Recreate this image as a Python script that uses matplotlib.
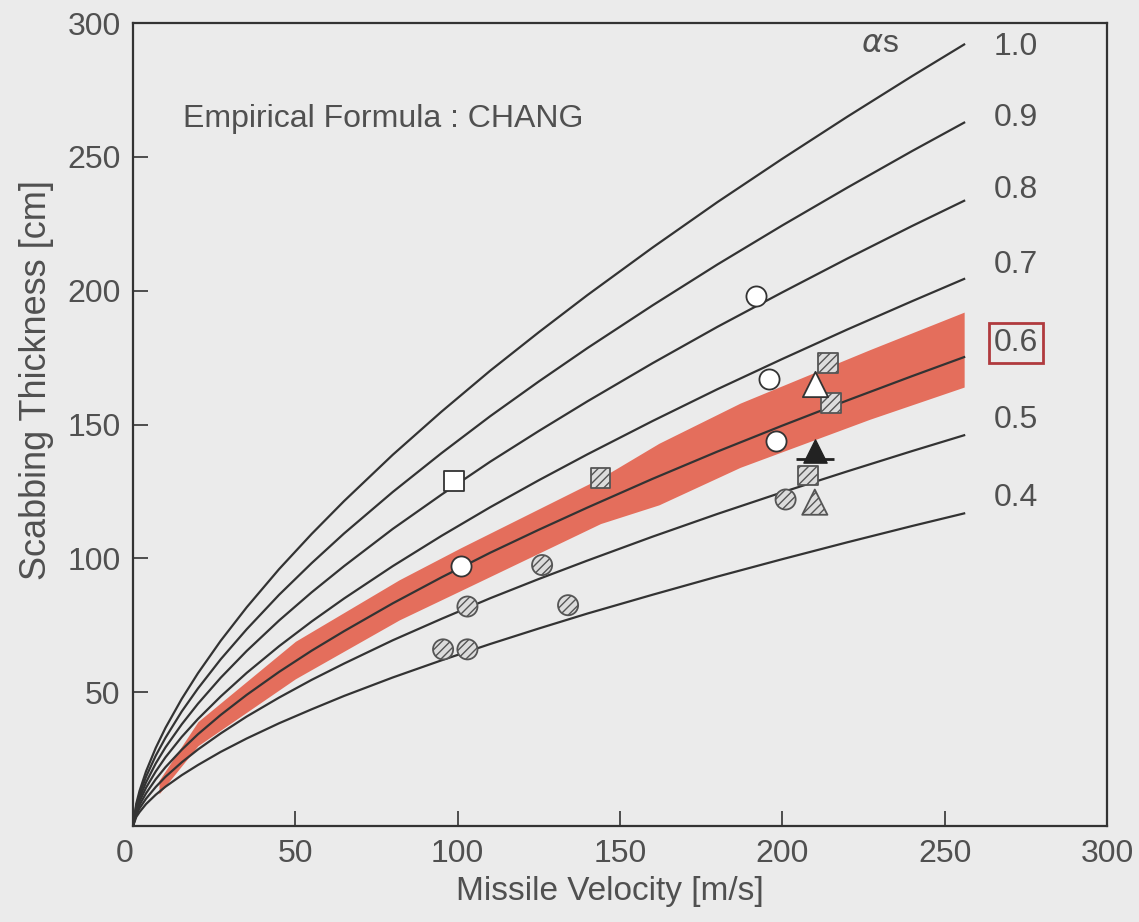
import matplotlib
matplotlib.use("Agg")
import matplotlib.pyplot as plt

plt.rcParams['font.family'] = ['Liberation Sans', 'DejaVu Sans']
plt.rcParams['hatch.linewidth'] = 1.0

# Curves (thickness in cm at each velocity in m/s)
curve_v = [0, 1, 2, 4, 7, 10, 15, 20, 27, 35, 45, 55, 65, 80, 95, 110, 125,
           140, 160, 180, 200, 220, 240, 256]
t_10 = [0, 8.4, 13.1, 20.4, 29.2, 36.7, 47.5, 57.1, 69.2, 81.7, 96.0, 109.1,
        121.4, 138.7, 154.8, 170.1, 184.5, 198.4, 216.1, 233.1, 249.3, 265.0,
        280.2, 292.0]
t_09 = [0, 7.6, 11.8, 18.4, 26.3, 33.0, 42.8, 51.4, 62.3, 73.5, 86.4, 98.2,
        109.3, 124.8, 139.3, 153.1, 166.1, 178.6, 194.5, 209.8, 224.4, 238.5,
        252.2, 262.8]
t_08 = [0, 6.7, 10.5, 16.3, 23.4, 29.4, 38.0, 45.7, 55.4, 65.4, 76.8, 87.3,
        97.1, 111.0, 123.8, 136.1, 147.6, 158.7, 172.9, 186.5, 199.4, 212.0,
        224.2, 233.6]
t_07 = [0, 5.9, 9.2, 14.3, 20.4, 25.7, 33.3, 40.0, 48.4, 57.2, 67.2, 76.4,
        85.0, 97.1, 108.4, 119.1, 129.2, 138.9, 151.3, 163.2, 174.5, 185.5,
        196.1, 204.4]
t_06 = [0, 5.0, 7.9, 12.2, 17.5, 22.0, 28.5, 34.3, 41.5, 49.0, 57.6, 65.5,
        72.8, 83.2, 92.9, 102.1, 110.7, 119.0, 129.7, 139.9, 149.6, 159.0,
        168.1, 175.2]
t_05 = [0, 4.2, 6.6, 10.2, 14.6, 18.4, 23.8, 28.6, 34.6, 40.9, 48.0, 54.6,
        60.7, 69.4, 77.4, 85.1, 92.3, 99.2, 108.1, 116.6, 124.7, 132.5,
        140.1, 146.0]
t_04 = [0, 3.4, 5.2, 8.2, 11.7, 14.7, 19.0, 22.8, 27.7, 32.7, 38.4, 43.6,
        48.6, 55.5, 61.9, 68.0, 73.8, 79.4, 86.4, 93.2, 99.7, 106.0, 112.1,
        116.8]
alpha_labels = ['1.0', '0.9', '0.8', '0.7', '0.6', '0.5', '0.4']
alpha_label_y = [291, 264.5, 237.6, 209.6, 180.4, 151.7, 122.5]

# red marker band around alpha_s = 0.6
band_v = [8, 20, 50, 82, 101, 144, 162, 187, 227, 256]
band_hi = [17, 39, 69, 92, 104, 130, 143, 158, 178, 192]
band_lo = [12, 30, 55, 77, 88, 113, 120, 134, 152, 164]

# test data
open_circle_v = [101, 192, 196, 198]
open_circle_t = [97, 198, 167, 144]
hatch_circle_v = [95.5, 103, 103, 126, 134, 201]
hatch_circle_t = [66, 66, 82, 97.5, 82.5, 122]
open_square_v = [99]
open_square_t = [129]
hatch_square_v = [144, 214, 215, 208]
hatch_square_t = [130, 173, 158, 131]
open_tri_v = [210]
open_tri_t = [165]
hatch_tri_v = [210]
hatch_tri_t = [121]
solid_tri_v = [210]
solid_tri_t = [140]

bg = '#ebebeb'
ink = '#333333'
txt = '#505050'

fig = plt.figure(figsize=(11.39, 9.22), dpi=100, facecolor=bg)
ax = fig.add_axes([0.1168, 0.1041, 0.8551, 0.8709], facecolor=bg)

ax.fill_between(band_v, band_lo, band_hi, color='#e4604c', alpha=0.9, lw=0, zorder=1)

curves = [t_10, t_09, t_08, t_07, t_06, t_05, t_04]
for t in curves:
    ax.plot(curve_v, t, color=ink, lw=1.6, zorder=2)

for lab, ly in zip(alpha_labels, alpha_label_y):
    kw = {}
    if lab == '0.6':
        kw['bbox'] = dict(boxstyle='square,pad=0.15', fc='none', ec='#b03a3e', lw=2)
    ax.text(272, ly, lab, fontsize=23, color=txt, ha='center', va='center', **kw)

ax.text(230, 292, r'$\alpha$s', fontsize=23, color=txt, ha='center', va='center')
ax.text(15.5, 264, 'Empirical Formula : CHANG', fontsize=23, color=txt,
        ha='left', va='center')

ms = 210
ax.scatter(open_circle_v, open_circle_t, s=ms, marker='o', facecolor='white',
           edgecolor=ink, lw=1.3, zorder=4)
ax.scatter(hatch_circle_v, hatch_circle_t, s=ms, marker='o', facecolor='#dcdcdc',
           edgecolor='#555555', hatch='////', lw=1.3, zorder=4)
ax.scatter(open_square_v, open_square_t, s=200, marker='s', facecolor='white',
           edgecolor=ink, lw=1.3, zorder=4)
ax.scatter(hatch_square_v, hatch_square_t, s=200, marker='s', facecolor='#dcdcdc',
           edgecolor='#555555', hatch='////', lw=1.3, zorder=4)
ax.scatter(open_tri_v, open_tri_t, s=330, marker='^', facecolor='white',
           edgecolor=ink, lw=1.3, zorder=4)
ax.scatter(hatch_tri_v, hatch_tri_t, s=330, marker='^', facecolor='#dcdcdc',
           edgecolor='#555555', hatch='////', lw=1.3, zorder=4)
ax.scatter(solid_tri_v, solid_tri_t, s=280, marker='^', facecolor='#222222',
           edgecolor='#222222', lw=1, zorder=4)
ax.scatter(solid_tri_v, [v - 3 for v in solid_tri_t], s=750, marker='_',
           color='#222222', lw=2, zorder=4)

ax.set_xlim(0, 300)
ax.set_ylim(0, 300)
ax.set_xticks([0, 50, 100, 150, 200, 250, 300])
ax.set_yticks([50, 100, 150, 200, 250, 300])
ax.tick_params(direction='in', length=11, width=1.2, color=ink, labelsize=23,
               labelcolor=txt)
ax.tick_params(axis='x', pad=9)
ax.tick_params(axis='y', pad=9)
ax.get_xticklabels()[0].set_ha('right')
for sp in ax.spines.values():
    sp.set_color(ink)
    sp.set_linewidth(1.6)

ax.set_xlabel('Missile Velocity [m/s]', fontsize=24, color=txt)
ax.set_ylabel('Scabbing Thickness [cm]', fontsize=26, color=txt)
ax.xaxis.set_label_coords(0.49, -0.062)
ax.yaxis.set_label_coords(-0.081, 0.555)

fig.savefig('out.png', dpi=100, facecolor=bg)
